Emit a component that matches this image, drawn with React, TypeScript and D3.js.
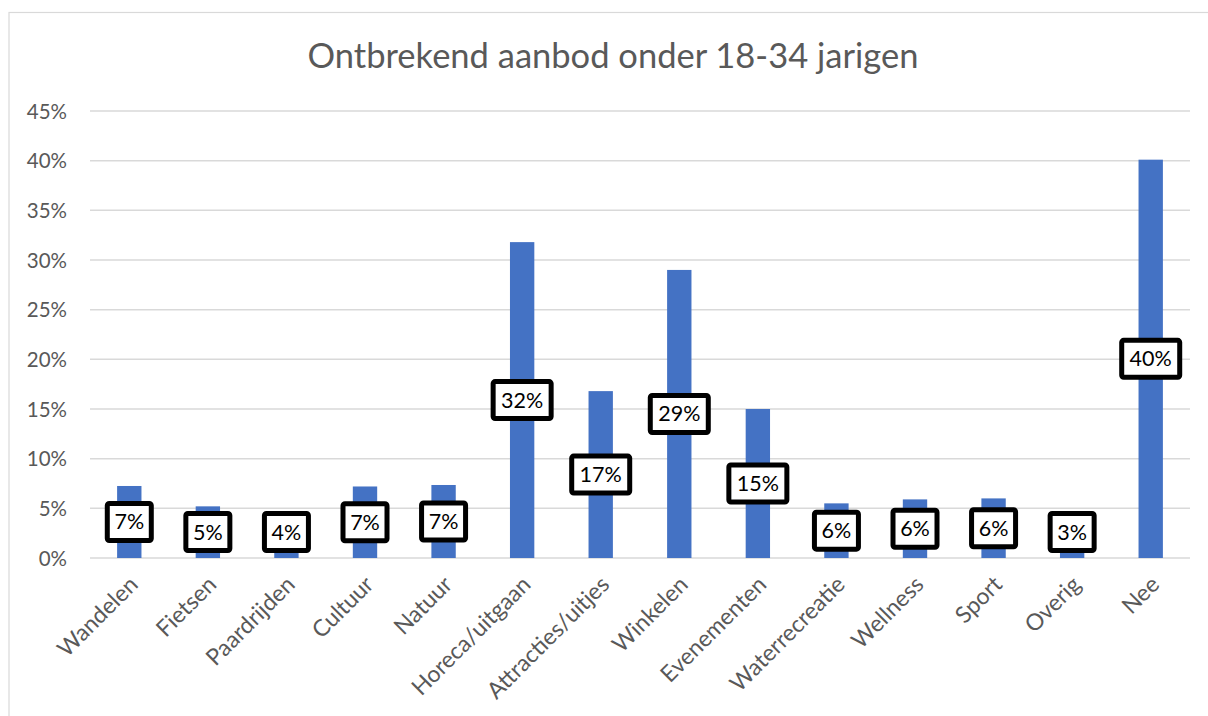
import React from "react";
import * as d3 from "d3";

const categories = [
  "Wandelen", "Fietsen", "Paardrijden", "Cultuur", "Natuur", "Horeca/uitgaan",
  "Attracties/uitjes", "Winkelen", "Evenementen", "Waterrecreatie", "Wellness",
  "Sport", "Overig", "Nee",
];
const values = [7.25, 5.2, 4.0, 7.2, 7.35, 31.8, 16.8, 29.0, 15.0, 5.5, 5.9, 6.0, 3.0, 40.1];
const labels = ["7%", "5%", "4%", "7%", "7%", "32%", "17%", "29%", "15%", "6%", "6%", "6%", "3%", "40%"];
const yTicks = [0, 5, 10, 15, 20, 25, 30, 35, 40, 45];
const title = "Ontbrekend aanbod onder 18-34 jarigen";

const W = 1208, H = 716;
const left = 90, right = 1190, top = 111, bottom = 558;
const FONT = "Lato, 'Open Sans', sans-serif";

export default function App() {
  const x = d3.scaleBand<string>().domain(categories).range([left, right]).paddingInner(0.69).paddingOuter(0.345);
  const y = d3.scaleLinear().domain([0, 45]).range([bottom, top]);
  return (
    <svg width={W} height={H} style={{ position: "absolute", left: 0, top: 0 }}>
      <rect x={0} y={0} width={W} height={H} fill="#fff" />
      <rect x={9} y={12.5} width={W + 20} height={H + 20} fill="none" stroke="#d9d9d9" strokeWidth={1.2} />
      <text x={613} y={68} textAnchor="middle" fontFamily={FONT} fontSize={34.5} fill="#595959">{title}</text>
      {yTicks.map((t) => (
        <g key={t}>
          <line x1={left} x2={right} y1={y(t)} y2={y(t)} stroke="#d9d9d9" strokeWidth={1.5} />
          <text x={67} y={y(t) + 7.5} textAnchor="end" fontFamily={FONT} fontSize={20.5} fill="#595959">{t}%</text>
        </g>
      ))}
      {categories.map((c, i) => (
        <rect key={c} x={x(c)} y={y(values[i])} width={x.bandwidth()} height={y(0) - y(values[i])} fill="#4472c4" />
      ))}
      {categories.map((c) => {
        const cx = (x(c) as number) + x.bandwidth() / 2 - 3;
        return (
          <text key={c} transform={`translate(${cx},${573}) rotate(-45)`} textAnchor="end" dominantBaseline="hanging"
            fontFamily={FONT} fontSize={23} fill="#595959">{c}</text>
        );
      })}
      {categories.map((c, i) => {
        const cx = (x(c) as number) + x.bandwidth() / 2;
        const cy = Math.min(y(values[i] / 2), y(0) - 26);
        const w = labels[i].length === 3 ? 58 : 44;
        const h = 37;
        return (
          <g key={c}>
            <rect x={cx - w / 2} y={cy - h / 2} width={w} height={h} fill="#fff" stroke="#000" strokeWidth={5} rx={2} />
            <text x={cx} y={cy + 7.5} textAnchor="middle" fontFamily={FONT} fontSize={21.5} fill="#000">{labels[i]}</text>
          </g>
        );
      })}
    </svg>
  );
}
